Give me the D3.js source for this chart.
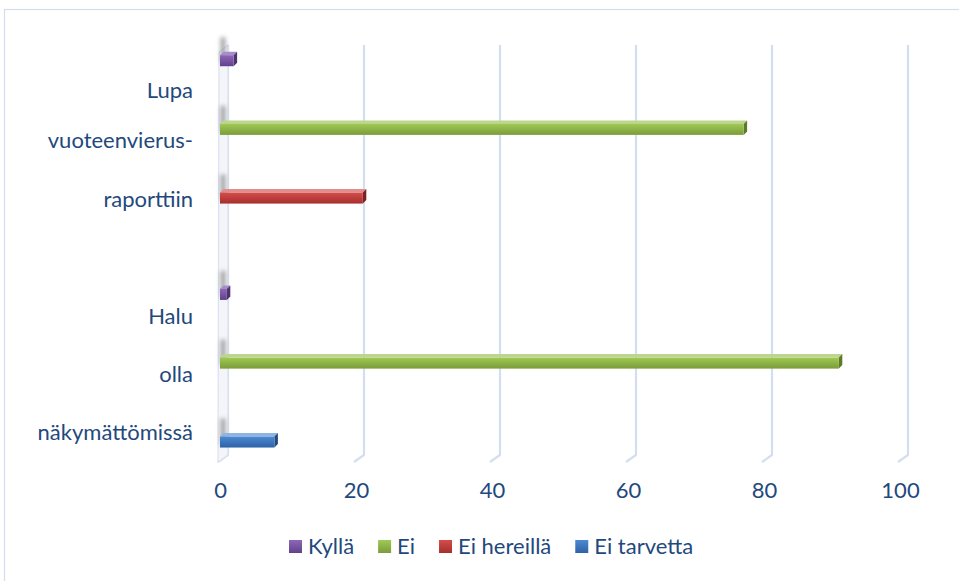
<!DOCTYPE html>
<html>
<head>
<meta charset="utf-8">
<script src="https://cdn.jsdelivr.net/npm/d3@7"></script>
<style>
  html, body { margin: 0; padding: 0; background: #fff; }
  svg { display: block; }
  text { font-family: Lato, "Open Sans", sans-serif; fill: #1F497D; }
</style>
</head>
<body>
<svg id="chart" width="959" height="581"></svg>
<script>
// Category rows (top to bottom); the empty row separates the two questions
const categories = ["Lupa", "vuoteenvierus-", "raporttiin", "", "Halu", "olla", "näkymättömissä"];
const series = ["Kyllä", "Ei", "Ei hereillä", "Ei tarvetta"];
// Percentages per series, one value per category row
const kylla      = [2, 0, 0, 0, 1, 0, 0];
const ei         = [0, 77, 0, 0, 0, 91, 0];
const eiHereilla = [0, 0, 21, 0, 0, 0, 0];
const eiTarvetta = [0, 0, 0, 0, 0, 0, 8];
const xTicks = [0, 20, 40, 60, 80, 100];

const seriesValues = [kylla, ei, eiHereilla, eiTarvetta];
const palette = {
  "Kyllä":       { top: "#8d67b8", bottom: "#62418a", side: "#4d346e", cap: "#a88cc9" },
  "Ei":          { top: "#a0c954", bottom: "#7b9c3b", side: "#5d7a2b", cap: "#bcd68e" },
  "Ei hereillä": { top: "#d44d4a", bottom: "#a52f2d", side: "#7c2322", cap: "#e28d8b" },
  "Ei tarvetta": { top: "#4c8ad2", bottom: "#2e62a6", side: "#234a7e", cap: "#8fb4e1" }
};

const svg = d3.select("#chart");
const defs = svg.append("defs");
series.forEach((s, i) => {
  const g = defs.append("linearGradient").attr("id", "grad" + i)
    .attr("x1", 0).attr("y1", 0).attr("x2", 0).attr("y2", 1);
  g.append("stop").attr("offset", "0%").attr("stop-color", palette[s].top);
  g.append("stop").attr("offset", "100%").attr("stop-color", palette[s].bottom);
});
defs.append("filter").attr("id", "soft").attr("x", "-100%").attr("y", "-100%")
  .attr("width", "300%").attr("height", "300%")
  .append("feGaussianBlur").attr("stdDeviation", 2.2);

// chart frame
svg.append("rect").attr("x", 4.5).attr("y", 9.5).attr("width", 1000).attr("height", 1000)
  .attr("fill", "none").attr("stroke", "#d3dcea").attr("stroke-width", 1.2);

// front-plane scales; the back wall is shifted by the 3D depth
const x = d3.scaleLinear().domain([0, 100]).range([220, 900]);
const y = d3.scaleBand().domain(d3.range(categories.length)).range([53, 462]);
const inner = d3.scaleBand().domain(series).range([-27, 14]);
const depthX = 8;
const plotTop = 45, plotBottom = 455;
const barH = 11, barD = 3.5;

// back gridlines with their floor foot
const grid = svg.append("g");
xTicks.forEach(t => {
  const bx = x(t) + depthX;
  grid.append("path")
    .attr("d", `M${bx},${plotTop} L${bx},${plotBottom} L${x(t) - 2},${plotBottom + 7}`)
    .attr("fill", "none").attr("stroke", "#d4def1").attr("stroke-width", 2.2);
});

// side wall at the value axis
const wall = svg.append("g");
wall.append("path")
  .attr("d", `M${x(0) - 1},${plotTop + 7} L${x(0) + depthX},${plotTop} L${x(0) + depthX},${plotBottom} L${x(0) - 2},${plotBottom + 7} Z`)
  .attr("fill", "#f3f5f9").attr("stroke", "#d9e2f1").attr("stroke-width", 1.2);

// bar shadows cast on the wall
seriesValues.forEach((vals, si) => {
  vals.forEach((v, ci) => {
    if (v <= 0) return;
    const cy = y(ci) + y.bandwidth() / 2 + inner(series[si]);
    wall.append("rect")
      .attr("x", x(0) + 0.5).attr("y", cy - 18).attr("width", 5).attr("height", 26)
      .attr("fill", "#8a8a8a").attr("opacity", 0.75).attr("filter", "url(#soft)");
  });
});

// bars with top and end faces
const bars = svg.append("g");
seriesValues.forEach((vals, si) => {
  const s = series[si];
  vals.forEach((v, ci) => {
    if (v <= 0) return;
    const y0 = y(ci) + y.bandwidth() / 2 + inner(s);
    const x0 = x(0), x1 = x(v);
    bars.append("path")
      .attr("d", `M${x0},${y0} L${x0 + barD},${y0 - barD} L${x1 + barD},${y0 - barD} L${x1},${y0} Z`)
      .attr("fill", palette[s].cap);
    bars.append("path")
      .attr("d", `M${x1},${y0} L${x1 + barD},${y0 - barD} L${x1 + barD},${y0 + barH - barD} L${x1},${y0 + barH} Z`)
      .attr("fill", palette[s].side);
    bars.append("rect")
      .attr("x", x0).attr("y", y0).attr("width", x1 - x0).attr("height", barH)
      .attr("fill", `url(#grad${si})`);
  });
});

// category labels
svg.append("g").selectAll("text").data(categories).join("text")
  .attr("x", 193).attr("y", (d, i) => y(i) + y.bandwidth() / 2 + (i === 0 ? 8 : 0))
  .attr("dy", "0.35em").attr("text-anchor", "end")
  .style("font-size", "22px").text(d => d);

// value axis labels
const axis = svg.append("g").attr("transform", "translate(0,462)")
  .call(d3.axisBottom(x).tickValues(xTicks).tickSize(0).tickPadding(20).tickFormat(d3.format("d")));
axis.select(".domain").remove();
axis.selectAll("text").style("font-size", "22px").style("font-family", "Lato, sans-serif").attr("fill", "#1F497D");

// legend
const legend = svg.append("g").attr("transform", "translate(289,540)");
let lx = 0;
series.forEach((s, i) => {
  const item = legend.append("g").attr("transform", `translate(${lx},0)`);
  item.append("rect").attr("width", 13).attr("height", 13).attr("fill", `url(#grad${i})`);
  const t = item.append("text").attr("x", 19).attr("y", 6.5).attr("dy", "0.35em")
    .style("font-size", "22px").text(s);
  lx += 19 + t.node().getComputedTextLength() + 24;
});
</script>
</body>
</html>
